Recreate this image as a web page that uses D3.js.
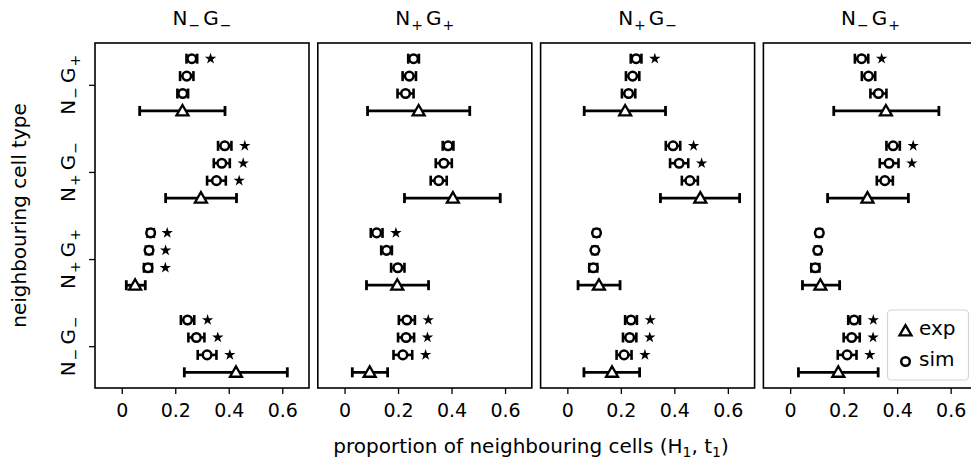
<!DOCTYPE html>
<html><head><meta charset="utf-8">
<script src="https://cdn.jsdelivr.net/npm/d3@7"></script>
<style>
body{margin:0;background:#fff}
text{font-family:"DejaVu Sans",sans-serif;fill:#000}
</style>
</head><body>
<svg id="c" width="971" height="464"></svg>
<script>
// ---- data ----
const panelTitles = [["−","−"],["+","+"],["+","−"],["−","+"]];
const categories = [["−","−"],["+","+"],["+","−"],["−","+"]]; // bottom → top
const xTicks = [0, 0.2, 0.4, 0.6];
const xTickLabels = ["0", "0.2", "0.4", "0.6"];
// per panel, per category (bottom → top)
const expMean = [
  [0.427, 0.050, 0.296, 0.227],
  [0.094, 0.197, 0.405, 0.277],
  [0.167, 0.118, 0.497, 0.216],
  [0.180, 0.113, 0.289, 0.358]
];
const expLow = [
  [0.234, 0.017, 0.164, 0.067],
  [0.029, 0.082, 0.224, 0.086],
  [0.062, 0.040, 0.348, 0.063],
  [0.031, 0.046, 0.140, 0.163]
];
const expHigh = [
  [0.619, 0.088, 0.429, 0.386],
  [0.161, 0.314, 0.582, 0.468],
  [0.270, 0.197, 0.644, 0.367],
  [0.329, 0.185, 0.442, 0.556]
];
// three simulations: A (top row), B, C (just above exp)
const simA = [
  [0.246, 0.108, 0.385, 0.262],
  [0.233, 0.120, 0.387, 0.258],
  [0.238, 0.109, 0.395, 0.257],
  [0.239, 0.109, 0.385, 0.267]
];
const simB = [
  [0.279, 0.102, 0.374, 0.243],
  [0.230, 0.157, 0.371, 0.242],
  [0.233, 0.103, 0.418, 0.244],
  [0.230, 0.103, 0.370, 0.293]
];
const simC = [
  [0.319, 0.098, 0.354, 0.228],
  [0.218, 0.199, 0.352, 0.228],
  [0.212, 0.097, 0.458, 0.229],
  [0.213, 0.094, 0.354, 0.330]
];
const errA = [
  [0.025, 0.012, 0.025, 0.020],
  [0.030, 0.022, 0.020, 0.020],
  [0.022, 0.010, 0.027, 0.020],
  [0.022, 0.010, 0.025, 0.025]
];
const errB = [
  [0.030, 0.012, 0.030, 0.025],
  [0.030, 0.020, 0.030, 0.025],
  [0.025, 0.010, 0.034, 0.025],
  [0.030, 0.010, 0.035, 0.025]
];
const errC = [
  [0.035, 0.015, 0.035, 0.020],
  [0.035, 0.025, 0.030, 0.030],
  [0.028, 0.015, 0.030, 0.025],
  [0.035, 0.015, 0.030, 0.030]
];
const starA = [
  [1, 1, 1, 1],
  [1, 1, 0, 0],
  [1, 0, 1, 1],
  [1, 0, 1, 1]
];
const starB = [
  [1, 1, 1, 0],
  [1, 0, 0, 0],
  [1, 0, 1, 0],
  [1, 0, 1, 0]
];
const starC = [
  [1, 1, 1, 0],
  [1, 0, 0, 0],
  [1, 0, 0, 0],
  [1, 0, 0, 0]
];

// ---- layout ----
const svg = d3.select("#c");
const pTop = 43, pBottom = 388, pw = 214, pitch = 222.8, left0 = 95;
const FS = 20, SUB = 14;
const y = d3.scaleLinear().domain([-0.48, 3.48]).range([pBottom, pTop]);
const rowOffsets = {exp: -0.3, C: -0.1, B: 0.1, A: 0.3};
const STAR_GAP = 0.05;

function subLabel(sel, signs, sub) {
  sel.append("tspan").text("N");
  sel.append("tspan").attr("font-size", SUB).attr("dy", sub.dy).attr("dx", sub.dx).text(signs[0]);
  sel.append("tspan").attr("dy", -sub.dy).attr("dx", sub.gap).text("G");
  sel.append("tspan").attr("font-size", SUB).attr("dy", sub.dy).attr("dx", sub.dx).text(signs[1]);
}

const triSym = d3.symbol().type(d3.symbolTriangle).size(62);
const starSym = d3.symbol().type(d3.symbolStar).size(40);

panelTitles.forEach((t, p) => {
  const L = left0 + p * pitch;
  const x = d3.scaleLinear().domain([-0.1, 0.7]).range([L, L + pw]);
  const g = svg.append("g");

  // x axis
  const ax = g.append("g").attr("transform", `translate(0,${pBottom})`)
    .call(d3.axisBottom(x).tickValues(xTicks).tickFormat((d, i) => xTickLabels[i]).tickSize(6).tickPadding(10));
  ax.select(".domain").remove();
  ax.selectAll("line").attr("stroke", "#000").attr("stroke-width", 1.3);
  ax.selectAll("text").attr("font-size", 19).attr("font-family", "DejaVu Sans").attr("fill", "#000");

  // y axis ticks on first panel
  if (p === 0) {
    const ay = g.append("g").attr("transform", `translate(${L},0)`)
      .call(d3.axisLeft(y).tickValues([0, 1, 2, 3]).tickSize(6).tickFormat(""));
    ay.select(".domain").remove();
    ay.selectAll("line").attr("stroke", "#000").attr("stroke-width", 1.3);
    categories.forEach((c, i) => {
      const tx = g.append("text")
        .attr("transform", `translate(75,${y(i)}) rotate(-90)`)
        .attr("text-anchor", "middle").attr("font-size", FS);
      subLabel(tx, c, {dy: 5, dx: 1, gap: 4});
    });
  }

  // title
  const tt = g.append("text").attr("x", L + pw / 2).attr("y", 25)
    .attr("text-anchor", "middle").attr("font-size", FS);
  subLabel(tt, t, {dy: 5, dx: 1, gap: 3});

  const marks = g.append("g");
  const capH = 5;
  function errbar(x0, x1, yy, w) {
    marks.append("line").attr("x1", x(x0)).attr("x2", x(x1)).attr("y1", yy).attr("y2", yy)
      .attr("stroke", "#000").attr("stroke-width", w);
    [x0, x1].forEach(v => marks.append("line").attr("x1", x(v)).attr("x2", x(v))
      .attr("y1", yy - capH).attr("y2", yy + capH).attr("stroke", "#000").attr("stroke-width", w));
  }

  categories.forEach((c, i) => {
    // exp
    const ye = y(i + rowOffsets.exp);
    errbar(expLow[p][i], expHigh[p][i], ye, 2.8);
    marks.append("path").attr("d", triSym).attr("transform", `translate(${x(expMean[p][i])},${ye + 1})`)
      .attr("fill", "#fff").attr("stroke", "#000").attr("stroke-width", 2.3);
    // sims
    [["A", simA, errA, starA], ["B", simB, errB, starB], ["C", simC, errC, starC]].forEach(([k, m, e, s]) => {
      const ys = y(i + rowOffsets[k]);
      const v = m[p][i], er = e[p][i];
      errbar(v - er, v + er, ys, 2.6);
      marks.append("circle").attr("cx", x(v)).attr("cy", ys).attr("r", 4.3)
        .attr("fill", "#fff").attr("stroke", "#000").attr("stroke-width", 2.5);
      if (s[p][i]) {
        marks.append("path").attr("d", starSym)
          .attr("transform", `translate(${x(v + er + STAR_GAP)},${ys})`).attr("fill", "#000");
      }
    });
  });

  // frame
  g.append("rect").attr("x", L).attr("y", pTop).attr("width", pw).attr("height", pBottom - pTop)
    .attr("fill", "none").attr("stroke", "#000").attr("stroke-width", 1.6);

  // legend on last panel
  if (p === 3) {
    const lg = g.append("g");
    lg.append("rect").attr("x", 887.5).attr("y", 310).attr("width", 81).attr("height", 70).attr("rx", 4)
      .attr("fill", "#fff").attr("fill-opacity", 0.85).attr("stroke", "#d4d4d4").attr("stroke-width", 1.2);
    lg.append("path").attr("d", triSym).attr("transform", "translate(905.5,332)")
      .attr("fill", "#fff").attr("stroke", "#000").attr("stroke-width", 2.3);
    lg.append("text").attr("x", 919).attr("y", 335).attr("font-size", FS).text("exp");
    lg.append("circle").attr("cx", 905.5).attr("cy", 361.5).attr("r", 4.3)
      .attr("fill", "#fff").attr("stroke", "#000").attr("stroke-width", 2.5);
    lg.append("text").attr("x", 919).attr("y", 366).attr("font-size", FS).text("sim");
  }
});

// axis labels
const xl = svg.append("text").attr("x", 531).attr("y", 453).attr("text-anchor", "middle").attr("font-size", FS);
xl.append("tspan").text("proportion of neighbouring cells (H");
xl.append("tspan").attr("font-size", SUB).attr("dy", 4).text("1");
xl.append("tspan").attr("dy", -4).text(", t");
xl.append("tspan").attr("font-size", SUB).attr("dy", 4).text("1");
xl.append("tspan").attr("dy", -4).text(")");

svg.append("text").attr("transform", `translate(26,${(pTop + pBottom) / 2}) rotate(-90)`)
  .attr("text-anchor", "middle").attr("font-size", FS).text("neighbouring cell type");
</script>
</body></html>
